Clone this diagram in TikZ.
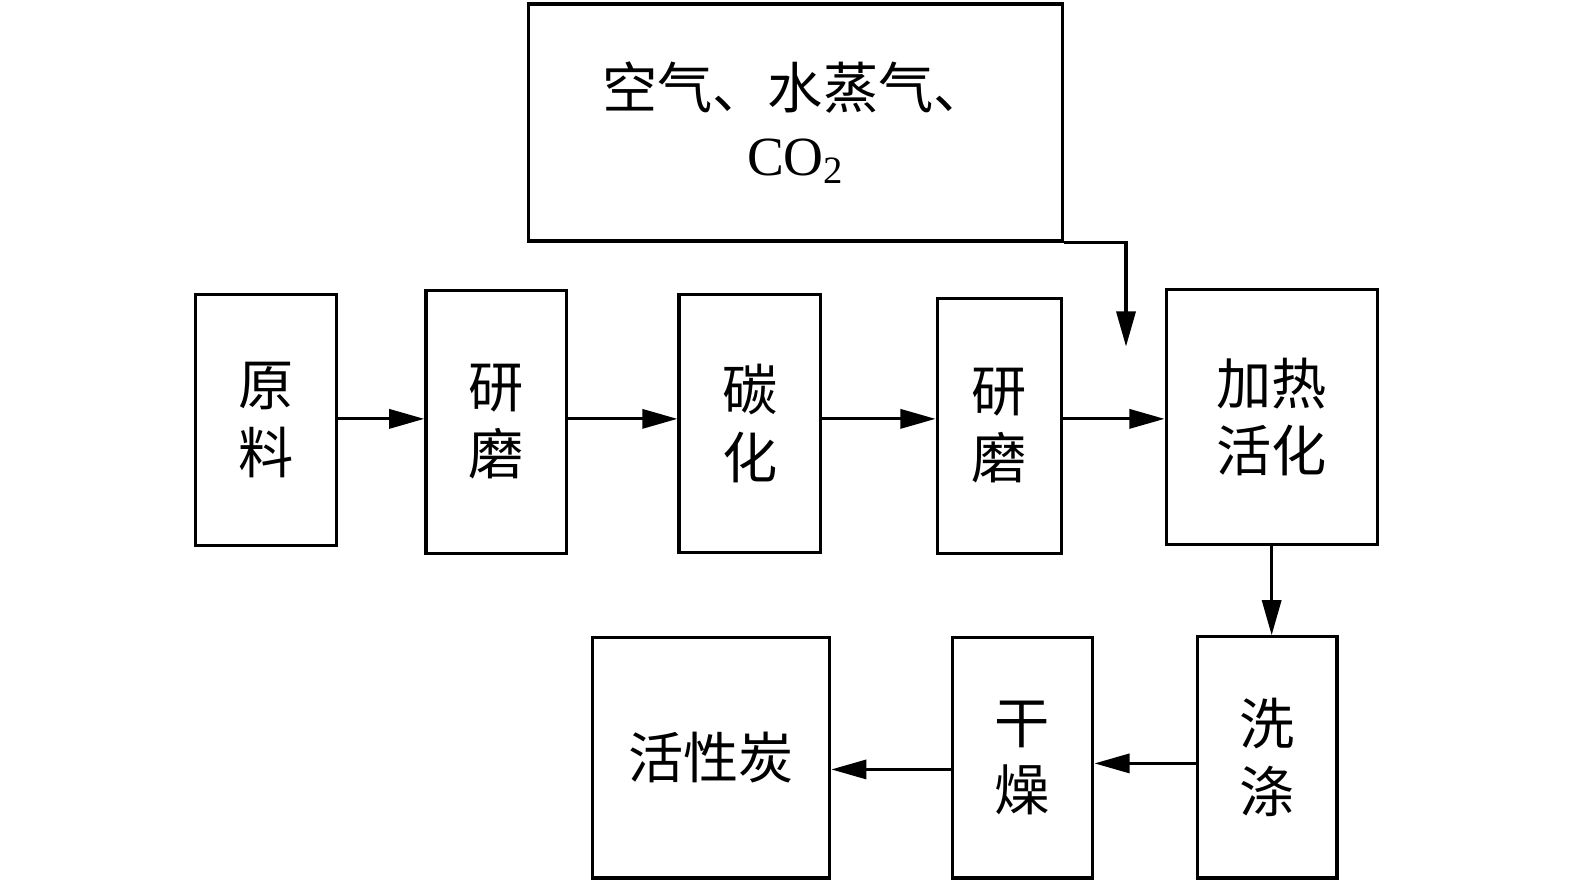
\documentclass[tikz,border=0pt]{standalone}
\usepackage{fontspec}
\setmainfont{Liberation Serif}
\newfontfamily\cjk{Noto Sans CJK SC}
\usetikzlibrary{arrows.meta}

\begin{document}
\begin{tikzpicture}[x=0.5pt,y=-0.5pt,
  box/.style={draw,line width=1.6pt,inner sep=0pt,align=center,
    font=\cjk\fontsize{27.5}{33.5}\selectfont},
  flow/.style={line width=1.6pt,-{Triangle[length=17.5pt,width=9.5pt]}}]
 \useasboundingbox (0,0) rectangle (1568,880); % 画布

 \node[box,minimum width=266pt,minimum height=118pt] (gas) at (792,122)
   {空气、水蒸气、\\{\rmfamily CO\textsubscript{2}}}; % 气体
 \node[box,minimum width=70pt,minimum height=125pt] (yl) at (265,418) {原\\料}; % 原料
 \node[box,minimum width=70pt,minimum height=131pt] (ym1) at (494,420) {研\\磨}; % 研磨
 \node[box,minimum width=70.5pt,minimum height=128.5pt] (th) at (746.5,421.5) {碳\\化}; % 碳化
 \node[box,minimum width=62pt,minimum height=127pt] (ym2) at (995,424) {研\\磨}; % 研磨
 \node[box,minimum width=105pt,minimum height=127pt] (jr) at (1266,415) {加热\\活化}; % 加热活化
 \node[box,minimum width=69.5pt,minimum height=120pt] (xd) at (1261.5,754) {洗\\涤}; % 洗涤
 \node[box,minimum width=70pt,minimum height=119.5pt] (gz) at (1018,754.5) {干\\燥}; % 干燥
 \node[box,minimum width=118pt,minimum height=119.5pt] (hxt) at (708,754.5) {活性炭}; % 活性炭

 \coordinate (row) at (0,417); % 上段
 \coordinate (row2) at (0,760); % 下段
 \coordinate (row3) at (0,766); % 下段
 \coordinate (gasin) at (1121,345); % 气体入口

 \draw[flow] (row -| yl.east) -- (row -| ym1.west);
 \draw[flow] (row -| ym1.east) -- (row -| th.west);
 \draw[flow] (row -| th.east) -- (row -| ym2.west);
 \draw[flow] (row -| ym2.east) -- (row -| jr.west);
 \draw[flow] (gas.south east) -| (gasin);
 \draw[flow] (jr.south) -- (jr.south |- xd.north);
 \draw[flow] (row2 -| xd.west) -- (row2 -| gz.east);
 \draw[flow] (row3 -| gz.west) -- (row3 -| hxt.east);
\end{tikzpicture}
\end{document}
